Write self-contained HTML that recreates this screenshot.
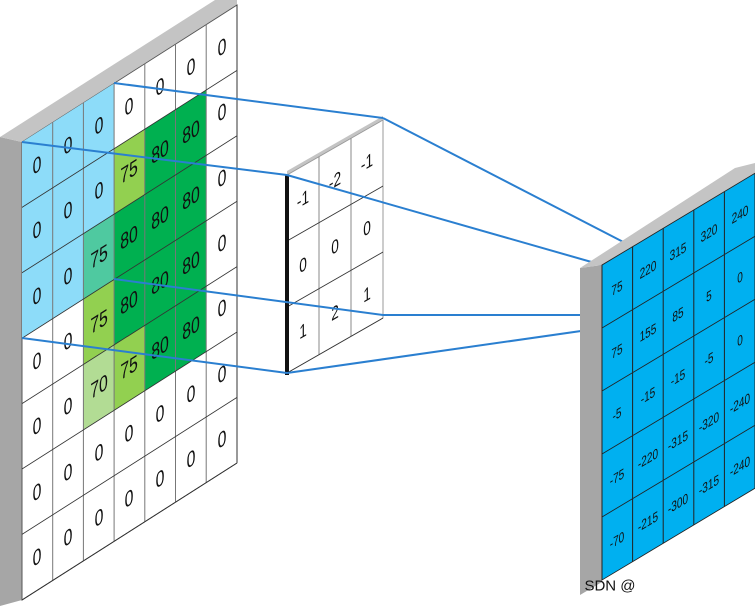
<!DOCTYPE html>
<html><head><meta charset="utf-8"><style>
html,body{margin:0;padding:0;background:#fff;width:755px;height:606px;overflow:hidden}
svg{display:block}
text{font-family:"Liberation Sans",sans-serif;text-anchor:middle;dominant-baseline:central;fill:#111;transform-box:fill-box;transform-origin:center;transform:scaleX(.72)}
</style></head><body>
<svg width="755" height="606" viewBox="0 0 755 606" xmlns="http://www.w3.org/2000/svg">
<polygon points="0,137 22,142 22,600 0,606" fill="#a6a6a6"/>
<polygon points="0,137 215,0 237,0 237,5 22,142" fill="#c4c4c4"/>
<g transform="matrix(1,-0.6372,0,1,22,142)" stroke="#333" stroke-width="1">
<g stroke="#555">
<rect x="0" y="0" width="215" height="458" fill="#fff"/>
<rect x="0" y="0" width="92.1" height="196.2" fill="#8ddcf9" stroke="none"/>
<rect x="92.1" y="65.4" width="30.7" height="65.4" fill="#92d050" stroke="none"/>
<rect x="122.8" y="65.4" width="61.4" height="65.4" fill="#00b050" stroke="none"/>
<rect x="61.4" y="130.8" width="30.7" height="65.4" fill="#4fc9a0" stroke="none"/>
<rect x="92.1" y="130.8" width="92.1" height="130.8" fill="#00b050" stroke="none"/>
<rect x="61.4" y="196.2" width="30.7" height="65.4" fill="#92d050" stroke="none"/>
<rect x="61.4" y="261.6" width="30.7" height="65.4" fill="#b2dc94" stroke="none"/>
<rect x="92.1" y="261.6" width="30.7" height="65.4" fill="#92d050" stroke="none"/>
<rect x="122.8" y="261.6" width="61.4" height="65.4" fill="#00b050" stroke="none"/>
</g>
<g fill="none" stroke="#333">
<path d="M30.7 0V458M61.4 0V458M92.1 0V458M122.8 0V458M153.5 0V458M184.2 0V458M215 0V458" stroke="#777"/>
<path d="M0 65.4H215M0 130.8H215M0 196.2H215M0 261.6H215M0 327H215M0 392.4H215M0 458H215"/>
<path d="M215 0V458M0 458H215"/>
</g>
<g font-size="22" stroke="none">
<text x="15" y="33">0</text><text x="46" y="33">0</text><text x="77" y="33">0</text><text x="107" y="33">0</text><text x="138" y="33">0</text><text x="169" y="33">0</text><text x="200" y="33">0</text>
<text x="15" y="98">0</text><text x="46" y="98">0</text><text x="77" y="98">0</text><text x="107" y="98">75</text><text x="138" y="98">80</text><text x="169" y="98">80</text><text x="200" y="98">0</text>
<text x="15" y="164">0</text><text x="46" y="164">0</text><text x="77" y="164" fill="#1f4e79">75</text><text x="107" y="164">80</text><text x="138" y="164">80</text><text x="169" y="164">80</text><text x="200" y="164">0</text>
<text x="15" y="229">0</text><text x="46" y="229">0</text><text x="77" y="229">75</text><text x="107" y="229">80</text><text x="138" y="229">80</text><text x="169" y="229">80</text><text x="200" y="229">0</text>
<text x="15" y="294">0</text><text x="46" y="294">0</text><text x="77" y="294">70</text><text x="107" y="294">75</text><text x="138" y="294">80</text><text x="169" y="294">80</text><text x="200" y="294">0</text>
<text x="15" y="360">0</text><text x="46" y="360">0</text><text x="77" y="360">0</text><text x="107" y="360">0</text><text x="138" y="360">0</text><text x="169" y="360">0</text><text x="200" y="360">0</text>
<text x="15" y="425">0</text><text x="46" y="425">0</text><text x="77" y="425">0</text><text x="107" y="425">0</text><text x="138" y="425">0</text><text x="169" y="425">0</text><text x="200" y="425">0</text>
</g>
</g>
<g transform="matrix(1,-0.573,0,1,287,175)">
<polygon points="0,0 96,0 96,-4 0,-4" fill="#c4c4c4"/>
<rect x="0" y="0" width="96" height="198" fill="#fff" stroke="#999"/>
<path d="M32 0V198M64 0V198" stroke="#888" fill="none"/>
<path d="M0 66H96M0 132H96M0 198H96" stroke="#333" fill="none"/>
<g font-size="19">
<text x="16" y="33">-1</text><text x="48" y="33">-2</text><text x="80" y="33">-1</text>
<text x="16" y="99">0</text><text x="48" y="99">0</text><text x="80" y="99">0</text>
<text x="16" y="165">1</text><text x="48" y="165">2</text><text x="80" y="165">1</text>
</g>
</g>
<rect x="285" y="175" width="4" height="200" fill="#111"/>
<g stroke="#2a7fd0" stroke-width="2" fill="none">
<line x1="114" y1="83" x2="383" y2="118"/>
<line x1="22" y1="142" x2="287" y2="175"/>
<line x1="114" y1="279" x2="383" y2="315"/>
<line x1="22" y1="338" x2="287" y2="373"/>
<line x1="383" y1="118" x2="633" y2="247"/>
<line x1="287" y1="175" x2="602" y2="265"/>
<line x1="383" y1="315" x2="602" y2="315"/>
<line x1="287" y1="373" x2="602" y2="328"/>
</g>
<polygon points="580,268 602,265 602,582 580,595" fill="#a6a6a6"/>
<polygon points="580,268 735,168 755,163 755,173 602,265" fill="#c4c4c4"/>
<g transform="matrix(1,-0.6,0,1,602,265)">
<rect x="0" y="0" width="153" height="315" fill="#00b0f0" stroke="#222"/>
<path d="M30.6 0V315M61.2 0V315M91.8 0V315M122.4 0V315M0 63H153M0 126H153M0 189H153M0 252H153" stroke="#222" fill="none"/>
<g font-size="14">
<text x="15" y="32">75</text><text x="46" y="32">220</text><text x="76" y="32">315</text><text x="107" y="32">320</text><text x="138" y="32">240</text>
<text x="15" y="95">75</text><text x="46" y="95">155</text><text x="76" y="95">85</text><text x="107" y="95">5</text><text x="138" y="95">0</text>
<text x="15" y="158">-5</text><text x="46" y="158">-15</text><text x="76" y="158">-15</text><text x="107" y="158">-5</text><text x="138" y="158">0</text>
<text x="15" y="221">-75</text><text x="46" y="221">-220</text><text x="76" y="221">-315</text><text x="107" y="221">-320</text><text x="138" y="221">-240</text>
<text x="15" y="284">-70</text><text x="46" y="284">-215</text><text x="76" y="284">-300</text><text x="107" y="284">-315</text><text x="138" y="284">-240</text>
</g>
</g>
<text x="610" y="586" font-size="15" fill="#bbb" style="transform:none">SDN @</text>
</svg>
</body></html>
